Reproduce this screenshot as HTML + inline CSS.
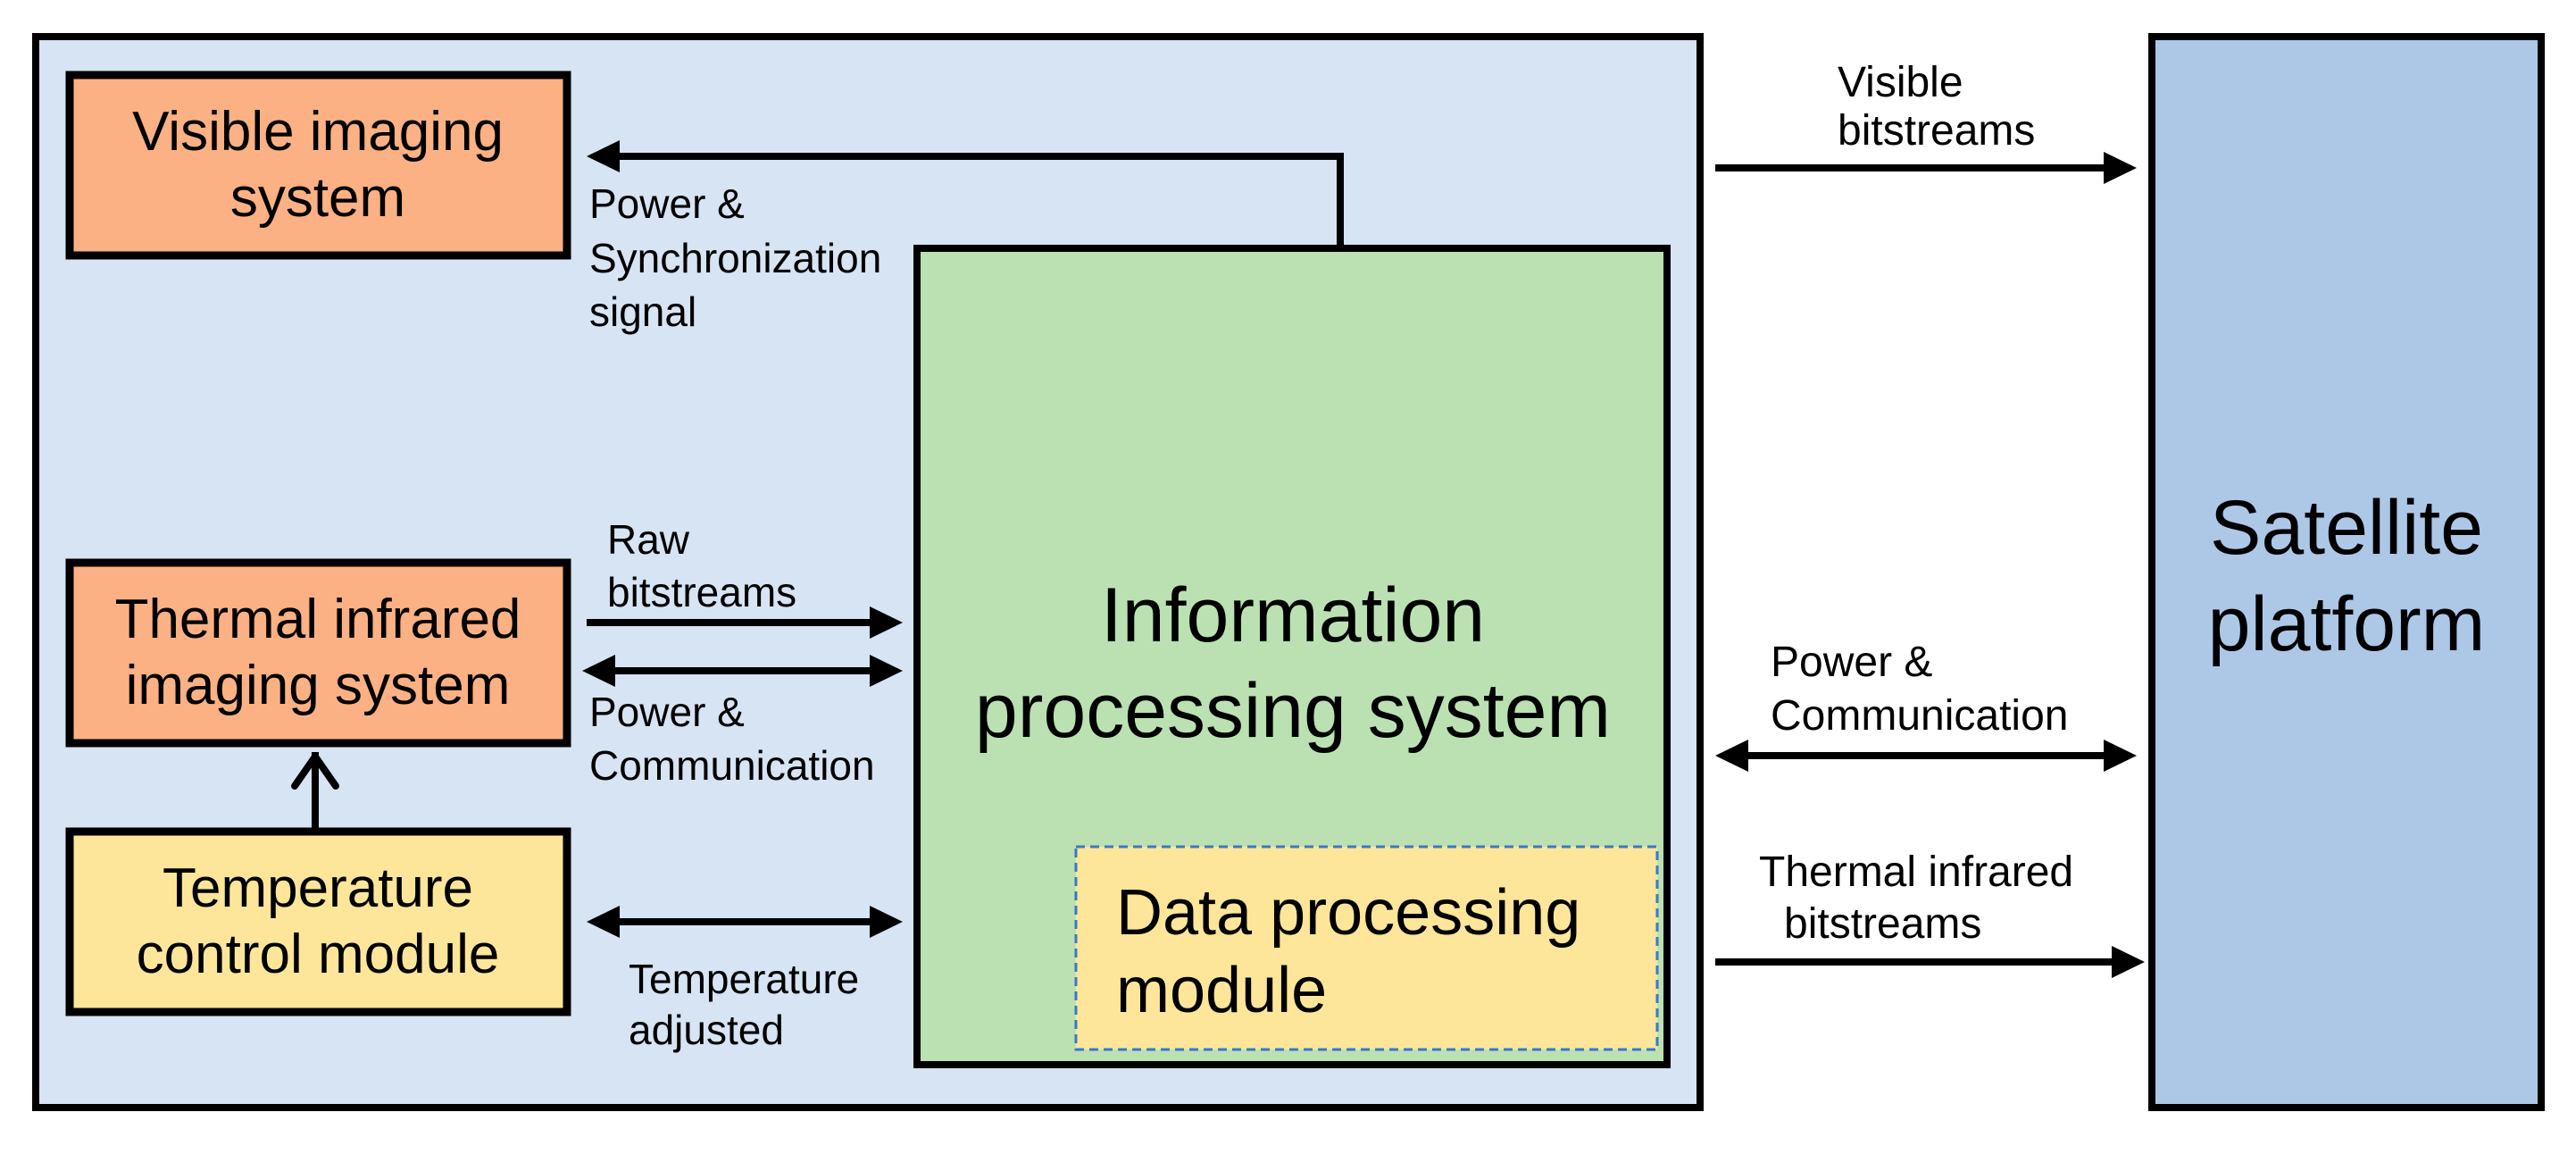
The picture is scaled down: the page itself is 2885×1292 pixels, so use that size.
<!DOCTYPE html>
<html><head><meta charset="utf-8"><style>
html,body{margin:0;padding:0;background:#fff;}
svg{display:block;}
text{font-family:"Liberation Sans",Arial,sans-serif;fill:#000;}
</style></head><body>
<svg width="2885" height="1292" viewBox="0 0 2885 1292" xmlns="http://www.w3.org/2000/svg">
<rect x="0" y="0" width="2885" height="1292" fill="#fff"/>
<!-- outer box -->
<rect x="40" y="41" width="1864" height="1199" fill="#d6e4f3" stroke="#000" stroke-width="8"/>
<!-- satellite -->
<rect x="2410" y="41" width="436" height="1199" fill="#adc7e7" stroke="#000" stroke-width="8"/>
<text x="2628" y="620" font-size="86" text-anchor="middle">Satellite</text>
<text x="2628" y="728" font-size="86" text-anchor="middle">platform</text>
<!-- visible box -->
<rect x="78" y="84" width="557" height="202" fill="#fbb183" stroke="#000" stroke-width="9"/>
<text x="356" y="168" font-size="62" text-anchor="middle">Visible imaging</text>
<text x="356" y="242" font-size="62" text-anchor="middle">system</text>
<!-- thermal box -->
<rect x="78" y="630" width="557" height="202" fill="#fbb183" stroke="#000" stroke-width="9"/>
<text x="356" y="714" font-size="62" text-anchor="middle">Thermal infrared</text>
<text x="356" y="788" font-size="62" text-anchor="middle">imaging system</text>
<!-- temperature box -->
<rect x="78" y="931" width="557" height="202" fill="#fde699" stroke="#000" stroke-width="9"/>
<text x="356" y="1015" font-size="62" text-anchor="middle">Temperature</text>
<text x="356" y="1089" font-size="62" text-anchor="middle">control module</text>
<!-- up arrow -->
<line x1="353" y1="927" x2="353" y2="842" stroke="#000" stroke-width="8"/>
<polyline points="330,880 353,847 376,880" fill="none" stroke="#000" stroke-width="8" stroke-linecap="round" stroke-linejoin="round"/>
<!-- green box -->
<rect x="1027" y="278" width="840" height="914" fill="#bbe1b3" stroke="#000" stroke-width="8"/>
<text x="1448" y="718" font-size="86" text-anchor="middle">Information</text>
<text x="1448" y="825" font-size="86" text-anchor="middle">processing system</text>
<!-- data processing -->
<rect x="1205" y="948" width="651" height="227" fill="#fde699" stroke="#3a78c8" stroke-width="3" stroke-dasharray="10,6"/>
<text x="1250" y="1046" font-size="72">Data processing</text>
<text x="1250" y="1133" font-size="72">module</text>
<!-- power sync connector -->
<polyline points="1501,278 1501,175 690,175" fill="none" stroke="#000" stroke-width="8"/>
<polygon points="657,175 694,157 694,193" fill="#000"/>
<text x="660" y="244" font-size="46">Power &amp;</text>
<text x="660" y="305" font-size="46">Synchronization</text>
<text x="660" y="365" font-size="46">signal</text>
<!-- raw bitstreams -->
<line x1="657" y1="697" x2="980" y2="697" stroke="#000" stroke-width="8"/>
<polygon points="1011,697 974,679 974,715" fill="#000"/>
<text x="680" y="620" font-size="46">Raw</text>
<text x="680" y="679" font-size="46">bitstreams</text>
<!-- power comm left -->
<line x1="680" y1="751" x2="980" y2="751" stroke="#000" stroke-width="8"/>
<polygon points="652,751 689,733 689,769" fill="#000"/>
<polygon points="1011,751 974,733 974,769" fill="#000"/>
<text x="660" y="813" font-size="46">Power &amp;</text>
<text x="660" y="873" font-size="46">Communication</text>
<!-- temp adjusted -->
<line x1="680" y1="1032" x2="980" y2="1032" stroke="#000" stroke-width="8"/>
<polygon points="657,1032 694,1014 694,1050" fill="#000"/>
<polygon points="1011,1032 974,1014 974,1050" fill="#000"/>
<text x="704" y="1112" font-size="46">Temperature</text>
<text x="704" y="1169" font-size="46">adjusted</text>
<!-- right arrows -->
<line x1="1921" y1="188" x2="2365" y2="188" stroke="#000" stroke-width="8"/>
<polygon points="2393,188 2356,170 2356,206" fill="#000"/>
<text x="2058" y="108" font-size="48">Visible</text>
<text x="2058" y="162" font-size="48">bitstreams</text>
<line x1="1945" y1="846" x2="2365" y2="846" stroke="#000" stroke-width="8"/>
<polygon points="1921,846 1958,828 1958,864" fill="#000"/>
<polygon points="2393,846 2356,828 2356,864" fill="#000"/>
<text x="1983" y="757" font-size="48">Power &amp;</text>
<text x="1983" y="817" font-size="48">Communication</text>
<line x1="1921" y1="1077" x2="2370" y2="1077" stroke="#000" stroke-width="8"/>
<polygon points="2402,1077 2365,1059 2365,1095" fill="#000"/>
<text x="1970" y="992" font-size="48">Thermal infrared</text>
<text x="1998" y="1050" font-size="48">bitstreams</text>
</svg>
</body></html>
